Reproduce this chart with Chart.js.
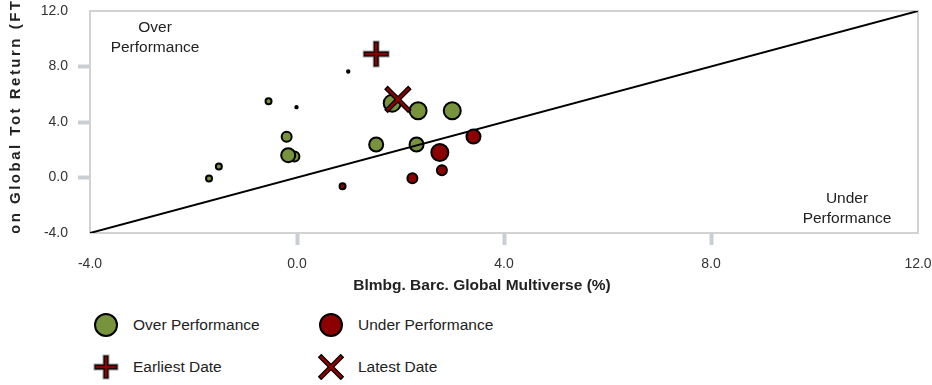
<!DOCTYPE html>
<html>
<head>
<meta charset="utf-8">
<script src="https://cdn.jsdelivr.net/npm/chart.js@4/dist/chart.umd.min.js"></script>
<style>
  html, body { margin: 0; padding: 0; background: #fff; }
  #wrap { position: relative; width: 932px; height: 385px; font-family: "Liberation Sans", Arial, sans-serif; }
  #chart { position: absolute; left: 0; top: 0; }
  #legend { position: absolute; left: 93px; top: 312px; display: grid; grid-template-columns: 225px 225px; row-gap: 16px; }
  .item { display: flex; align-items: center; height: 26px; font-size: 15.5px; color: #222; }
  .item svg { width: 26px; height: 26px; margin-right: 14px; flex: none; }
</style>
</head>
<body>
<div id="wrap">
  <canvas id="chart" width="932" height="300"></canvas>
  <div id="legend"></div>
</div>
<script>
// Eixos
const axisTicks = [-4, 0, 4, 8, 12];
const xTitle = 'Blmbg. Barc. Global Multiverse (%)';
const yTitle = 'Templeton Global Tot Return (FTTRX) (%)';

// Pontos acima da linha (x, y, tamanho da bolha)
const overX = [-1.70, -1.51, -0.55, -0.01, 0.99, -0.20, -0.05, -0.17, 1.53, 2.31, 1.84, 2.34, 3.00];
const overY = [-0.07, 0.79, 5.50, 5.07, 7.64, 2.93, 1.51, 1.61, 2.38, 2.38, 5.36, 4.81, 4.81];
const overR = [3, 3, 3, 1.2, 1.2, 5, 5, 7, 7, 7, 8.5, 8.5, 8.5];

// Pontos abaixo da linha
const underX = [0.88, 2.23, 2.80, 2.76, 3.41];
const underY = [-0.63, -0.05, 0.53, 1.80, 2.95];
const underR = [3, 5, 5, 8.5, 7];

// Primeira e última data
const earliest = { x: 1.53, y: 8.90 };
const latest = { x: 1.95, y: 5.63 };

const green = '#77933c';
const red = '#8b0000';
const fontFamily = '"Liberation Sans", Arial, sans-serif';

const toPoints = (xs, ys, rs) => xs.map((x, i) => ({ x: x, y: ys[i], r: rs ? rs[i] : undefined }));

// títulos dos eixos (o do eixo Y sai cortado, como no original)
const titlesPlugin = {
  id: 'titles',
  afterDraw(chart) {
    const ctx = chart.ctx;
    const area = chart.chartArea;
    ctx.save();
    ctx.font = 'bold 15.5px ' + fontFamily;
    ctx.fillStyle = '#222';
    ctx.textAlign = 'center';
    ctx.textBaseline = 'middle';
    ctx.fillText(xTitle, 482, 286);
    ctx.restore();

    ctx.save();
    ctx.beginPath();
    ctx.rect(0, 0, 40, area.bottom);
    ctx.clip();
    ctx.font = 'bold 15px ' + fontFamily;
    ctx.letterSpacing = '2.5px';
    ctx.fillStyle = '#222';
    ctx.textBaseline = 'middle';
    ctx.textAlign = 'left';
    const prefix = ctx.measureText('Templet').width;
    ctx.translate(16, 0);
    ctx.rotate(-Math.PI / 2);
    ctx.fillText(yTitle, -(area.bottom + 1 + prefix), 0);
    ctx.restore();
  }
};

// moldura e textos "Over / Under Performance"
const framePlugin = {
  id: 'frame',
  beforeDatasetsDraw(chart) {
    const ctx = chart.ctx;
    const a = chart.chartArea;
    ctx.save();
    ctx.strokeStyle = '#d2d2d2';
    ctx.lineWidth = 2;
    ctx.strokeRect(a.left, a.top, a.right - a.left, a.bottom - a.top);
    ctx.font = '15.5px ' + fontFamily;
    ctx.fillStyle = '#222';
    ctx.textAlign = 'center';
    ctx.textBaseline = 'middle';
    ctx.fillText('Over', a.left + 65, a.top + 17);
    ctx.fillText('Performance', a.left + 65, a.top + 37);
    ctx.fillText('Under', a.right - 71, a.bottom - 34);
    ctx.fillText('Performance', a.right - 71, a.bottom - 14);
    ctx.restore();
  }
};

const tickColor = c => (c.tick && (c.tick.value === axisTicks[0] || c.tick.value === axisTicks[axisTicks.length - 1])) ? 'rgba(0,0,0,0)' : '#c9ced3';

// sem margem automática para os rótulos: a área do gráfico fica fixa
const noPadding = s => { s.paddingTop = 0; s.paddingBottom = 0; s.paddingLeft = 0; s.paddingRight = 0; };

const scaleBase = {
  type: 'linear',
  min: axisTicks[0],
  max: axisTicks[axisTicks.length - 1],
  border: { display: false },
  grid: { drawOnChartArea: false, drawTicks: true, tickLength: 12, tickWidth: 4, tickColor: tickColor },
  ticks: {
    stepSize: 4,
    color: '#333',
    font: { size: 14, family: fontFamily },
    callback: v => Number(v).toFixed(1)
  }
};

new Chart(document.getElementById('chart'), {
  type: 'bubble',
  data: {
    datasets: [
      {
        label: 'Earliest Date halo',
        type: 'scatter',
        data: [earliest],
        pointStyle: 'cross',
        pointRadius: 13.5,
        pointBorderWidth: 7,
        pointBorderColor: '#a8a8a8',
        order: 2
      },
      {
        label: 'Earliest Date outline',
        type: 'scatter',
        data: [earliest],
        pointStyle: 'cross',
        pointRadius: 12.5,
        pointBorderWidth: 5,
        pointBorderColor: '#000',
        order: 1
      },
      {
        label: 'Earliest Date',
        type: 'scatter',
        data: [earliest],
        pointStyle: 'cross',
        pointRadius: 11.5,
        pointBorderWidth: 2.5,
        pointBorderColor: red,
        order: 0
      },
      {
        label: 'Latest Date outline',
        type: 'scatter',
        data: [latest],
        pointStyle: 'crossRot',
        pointRadius: 17,
        pointBorderWidth: 5,
        pointBorderColor: '#000',
        order: 1
      },
      {
        label: 'Latest Date',
        type: 'scatter',
        data: [latest],
        pointStyle: 'crossRot',
        pointRadius: 15.5,
        pointBorderWidth: 2.5,
        pointBorderColor: red,
        order: 0
      },
      {
        label: 'Under Performance',
        data: toPoints(underX, underY, underR),
        backgroundColor: red,
        borderColor: '#000',
        borderWidth: 2,
        order: 3
      },
      {
        label: 'Diagonal',
        type: 'line',
        data: [{ x: axisTicks[0], y: axisTicks[0] }, { x: axisTicks[axisTicks.length - 1], y: axisTicks[axisTicks.length - 1] }],
        borderColor: '#000',
        borderWidth: 2,
        pointRadius: 0,
        fill: false,
        order: 4
      },
      {
        label: 'Over Performance',
        data: toPoints(overX, overY, overR),
        backgroundColor: green,
        borderColor: '#000',
        borderWidth: 2,
        order: 5
      }
    ]
  },
  options: {
    responsive: false,
    animation: false,
    events: [],
    layout: { autoPadding: false, padding: { top: 11, right: 14, left: 0, bottom: 0 } },
    plugins: { legend: { display: false }, tooltip: { enabled: false } },
    scales: {
      x: Object.assign({}, scaleBase, {
        afterFit: s => { s.height = 67; noPadding(s); },
        ticks: Object.assign({}, scaleBase.ticks, { padding: 11 })
      }),
      y: Object.assign({}, scaleBase, {
        afterFit: s => { s.width = 90; noPadding(s); },
        ticks: Object.assign({}, scaleBase.ticks, { padding: 10 })
      })
    }
  },
  plugins: [framePlugin, titlesPlugin]
});

// Legenda em HTML
const legendItems = [
  { label: 'Over Performance', marker: 'circle', color: green },
  { label: 'Under Performance', marker: 'circle', color: red },
  { label: 'Earliest Date', marker: 'plus', color: red },
  { label: 'Latest Date', marker: 'x', color: red }
];

function markerSvg(item) {
  if (item.marker === 'circle') {
    return `<svg viewBox="0 0 26 26"><circle cx="13" cy="13" r="11" fill="${item.color}" stroke="#000" stroke-width="2"/></svg>`;
  }
  if (item.marker === 'plus') {
    return `<svg viewBox="0 0 26 26">
      <path d="M13 0.5V25.5M0.5 13H25.5" stroke="#a8a8a8" stroke-width="7"/>
      <path d="M13 1.5V24.5M1.5 13H24.5" stroke="#000" stroke-width="5"/>
      <path d="M13 2.5V23.5M2.5 13H23.5" stroke="${item.color}" stroke-width="2.5"/></svg>`;
  }
  return `<svg viewBox="0 0 26 26">
    <path d="M1.5 1.5L24.5 24.5M24.5 1.5L1.5 24.5" stroke="#000" stroke-width="5"/>
    <path d="M2.5 2.5L23.5 23.5M23.5 2.5L2.5 23.5" stroke="${item.color}" stroke-width="2.5"/></svg>`;
}

const legendEl = document.getElementById('legend');
legendItems.forEach(item => {
  const div = document.createElement('div');
  div.className = 'item';
  div.innerHTML = markerSvg(item) + '<span>' + item.label + '</span>';
  legendEl.appendChild(div);
});
</script>
</body>
</html>
